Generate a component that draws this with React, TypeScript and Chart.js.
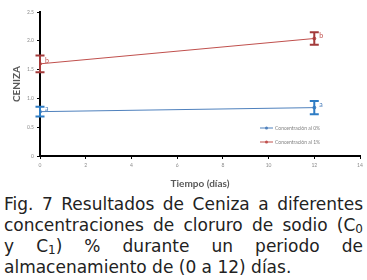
import React, { useEffect, useRef } from "react";
import { Chart, registerables } from "chart.js";

Chart.register(...registerables);

const days = [0, 12];
const c0Values = [0.77, 0.84];
const c0Errors = [0.085, 0.115];
const c0Letters = ["a", "a"];
const c1Values = [1.6, 2.04];
const c1Errors = [0.145, 0.11];
const c1Letters = ["b", "b"];
const seriesNames = ["Concentración al 0%", "Concentración al 1%"];
const xTicks = [0, 2, 4, 6, 8, 10, 12, 14];
const yTicks = [0, 0.5, 1, 1.5, 2, 2.5];

const BLUE = "#4F81BD";
const RED = "#C0504D";
const BLUE_ERR = "#2E7CC4";
const RED_ERR = "#A33A3A";

const errorPlugin = {
  id: "errorBars",
  afterDatasetsDraw(chart: any) {
    const ctx = chart.ctx;
    const xs = chart.scales.x;
    const ys = chart.scales.y;
    const sets = [
      { v: c0Values, e: c0Errors, l: c0Letters, c: BLUE_ERR, lc: BLUE },
      { v: c1Values, e: c1Errors, l: c1Letters, c: RED_ERR, lc: RED },
    ];
    ctx.save();
    sets.forEach((s) => {
      days.forEach((d, j) => {
        const x = xs.getPixelForValue(d);
        const yt = ys.getPixelForValue(s.v[j] + s.e[j]);
        const yb = ys.getPixelForValue(s.v[j] - s.e[j]);
        const ym = ys.getPixelForValue(s.v[j]);
        ctx.strokeStyle = s.c;
        ctx.lineWidth = 2;
        ctx.beginPath();
        ctx.moveTo(x, yt);
        ctx.lineTo(x, yb);
        ctx.moveTo(x - 4.5, yt);
        ctx.lineTo(x + 4.5, yt);
        ctx.moveTo(x - 4.5, yb);
        ctx.lineTo(x + 4.5, yb);
        ctx.stroke();
        ctx.fillStyle = s.lc;
        ctx.font = "7px Lato";
        ctx.textAlign = "left";
        ctx.textBaseline = "middle";
        ctx.fillText(s.l[j], x + 5, ym - 3);
      });
    });
    // legend
    const colors = [BLUE, RED];
    const area = chart.chartArea;
    seriesNames.forEach((name, i) => {
      const y = area.bottom - 28 + i * 14;
      const x0 = 260;
      ctx.strokeStyle = colors[i];
      ctx.lineWidth = 1;
      ctx.beginPath();
      ctx.moveTo(x0, y);
      ctx.lineTo(x0 + 13, y);
      ctx.stroke();
      ctx.fillStyle = colors[i];
      ctx.beginPath();
      ctx.arc(x0 + 6.5, y, 1.5, 0, Math.PI * 2);
      ctx.fill();
      ctx.fillStyle = "#7f7f7f";
      ctx.font = "5px Lato";
      ctx.textAlign = "left";
      ctx.textBaseline = "middle";
      ctx.fillText(name, x0 + 15, y);
    });
    ctx.restore();
  },
};

function ChartView() {
  const ref = useRef<HTMLCanvasElement | null>(null);
  useEffect(() => {
    if (!ref.current) return;
    const chart = new Chart(ref.current, {
      type: "line",
      data: {
        datasets: [
          {
            label: seriesNames[0],
            data: days.map((d, i) => ({ x: d, y: c0Values[i] })),
            borderColor: BLUE,
            backgroundColor: BLUE,
            borderWidth: 1,
            pointRadius: 1.5,
          },
          {
            label: seriesNames[1],
            data: days.map((d, i) => ({ x: d, y: c1Values[i] })),
            borderColor: RED,
            backgroundColor: RED,
            borderWidth: 1,
            pointRadius: 1.5,
          },
        ],
      },
      options: {
        animation: false,
        responsive: false,
        layout: { padding: { left: 11, right: 7, top: 12, bottom: 0 } },
        plugins: { legend: { display: false }, tooltip: { enabled: false } },
        scales: {
          x: {
            type: "linear",
            min: 0,
            max: 14,
            afterBuildTicks: (s: any) => {
              s.ticks = xTicks.map((v) => ({ value: v }));
            },
            afterFit: (s: any) => {
              s.height = 34;
            },
            grid: {
              display: true,
              drawOnChartArea: false,
              drawTicks: true,
              tickLength: 3,
              color: "#000",
            },
            border: { color: "#000", width: 2 },
            ticks: { font: { family: "Lato", size: 5 }, color: "#8c8c8c", padding: 3 },
            title: {
              display: true,
              text: "Tiempo (días)",
              font: { family: "Lato", size: 10, weight: "bold" },
              color: "#595959",
              padding: { top: 3, bottom: 0 },
            },
          },
          y: {
            type: "linear",
            min: 0,
            max: 2.5,
            afterBuildTicks: (s: any) => {
              s.ticks = yTicks.map((v) => ({ value: v }));
            },
            afterFit: (s: any) => {
              s.width = 29;
            },
            grid: {
              display: true,
              drawOnChartArea: false,
              drawTicks: true,
              tickLength: 3,
              color: "#000",
            },
            border: { color: "#000", width: 2 },
            ticks: { font: { family: "Lato", size: 5 }, color: "#8c8c8c", padding: 3 },
            title: {
              display: true,
              text: "CENIZA",
              font: { family: "Lato", size: 10, weight: "bold" },
              color: "#595959",
              padding: { top: 0, bottom: 0 },
            },
          },
        },
      },
      plugins: [errorPlugin],
    } as any);
    return () => chart.destroy();
  }, []);
  return (
    <canvas
      ref={ref}
      width={367}
      height={190}
      style={{ position: "absolute", left: 0, top: 0, width: 367, height: 190 }}
    />
  );
}

const subStyle: React.CSSProperties = { fontSize: 12, verticalAlign: "-2px", lineHeight: 0 };
const lineStyle: React.CSSProperties = {
  textAlign: "justify",
  textAlignLast: "justify",
  whiteSpace: "nowrap",
  height: 21,
};

export default function App() {
  return (
    <div style={{ position: "fixed", left: 0, top: 0, width: 367, height: 280, background: "#fff", overflow: "hidden" }}>
      <ChartView />
      <div
        style={{
          position: "absolute",
          left: 4,
          top: 194,
          width: 359,
          fontFamily: "'DejaVu Sans', sans-serif",
          fontSize: 17,
          lineHeight: "21px",
          color: "#222",
        }}
      >
        <div style={lineStyle}>Fig. 7 Resultados de Ceniza a diferentes</div>
        <div style={lineStyle}>
          concentraciones de cloruro de sodio (C<sub style={subStyle}>0</sub>
        </div>
        <div style={lineStyle}>
          y C<sub style={subStyle}>1</sub>) % durante un periodo de
        </div>
        <div style={{ textAlign: "left", whiteSpace: "nowrap", height: 21 }}>
          almacenamiento de (0 a 12) días.
        </div>
      </div>
    </div>
  );
}
